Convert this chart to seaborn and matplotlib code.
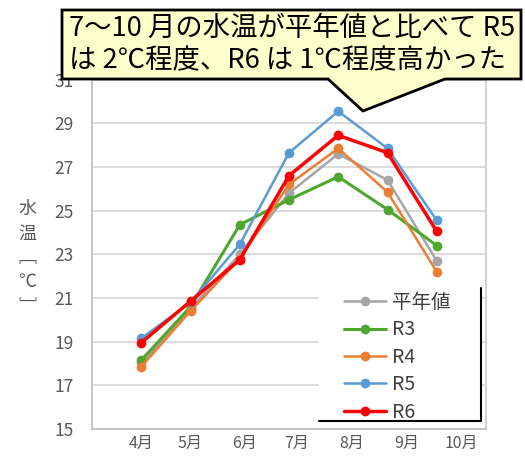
import pandas as pd
import matplotlib
matplotlib.use("Agg")
import matplotlib.pyplot as plt
from matplotlib.patches import Polygon, Rectangle
from matplotlib.lines import Line2D
import seaborn as sns

# Data
months = ["4月", "5月", "6月", "7月", "8月", "9月", "10月"]
normal = [18.0, 20.5, 23.0, 25.8, 27.6, 26.4, 22.7]
r3 = [18.15, 20.6, 24.35, 25.5, 26.55, 25.05, 23.4]
r4 = [17.85, 20.4, 22.8, 26.2, 27.85, 25.85, 22.2]
r5 = [19.15, 20.8, 23.45, 27.65, 29.55, 27.85, 24.55]
r6 = [18.95, 20.85, 22.75, 26.6, 28.45, 27.65, 24.05]
series_names = ["平年値", "R3", "R4", "R5", "R6"]
y_ticks = list(range(15, 32, 2))
note_lines = ["7～10 月の水温が平年値と比べて R5", "は 2℃程度、R6 は 1℃程度高かった"]

# Styles
colors = ["#a5a5a5", "#4ea72e", "#ed7d31", "#5b9bd5", "#ff0000"]
widths = [1.8, 2.2, 1.8, 1.8, 2.5]
month_label_pos = [0, 1, 2.1, 3.15, 4.27, 5.4, 6.5]

sns.set_style("white")
plt.rcParams["font.family"] = ["Noto Sans CJK JP", "DejaVu Sans"]

# Long table for seaborn
rows = []
for name, vals in zip(series_names, [normal, r3, r4, r5, r6]):
    for i, v in enumerate(vals):
        rows.append({"pos": i, "temp": v, "series": name})
df = pd.DataFrame(rows)

W, H = 525, 461
fig = plt.figure(figsize=(W / 100, H / 100), dpi=100)
ax = fig.add_axes([92 / W, 1 - 429 / H, (486 - 92) / W, (429 - 79.6) / H])

sns.lineplot(data=df, x="pos", y="temp", hue="series", hue_order=series_names,
             palette=colors, marker="o", markersize=7, markeredgewidth=0,
             linewidth=2, legend=False, sort=False, ax=ax)
for line, lw in zip(ax.lines, widths):
    line.set_linewidth(lw)

ax.set_xlim(-1, 7)
ax.set_ylim(15, 31)
ax.set_yticks(y_ticks)
ax.set_xticks(month_label_pos)
ax.set_xticklabels(months)
ax.set_xlabel("")
ax.set_ylabel("")
ax.grid(axis="y", color="#d9d9d9", linewidth=1.3)
ax.tick_params(axis="y", length=0, pad=13, labelsize=12.5, labelcolor="#595959")
ax.tick_params(axis="x", length=0, pad=4, labelsize=11.5, labelcolor="#595959")
for s in ax.spines.values():
    s.set_color("#d0d0d0")
    s.set_linewidth(1.3)
ax.spines["left"].set_color("#c0c0c0")
ax.spines["bottom"].set_color("#c0c0c0")

# y label, written vertically
fig.text(27 / W, 1 - 258 / H, "水\n温\n﹇\n℃\n﹈", ha="center", va="center",
         fontsize=13, color="#595959", linespacing=1.45)

# legend with white box and black right/bottom edges
fig.add_artist(Rectangle((319 / W, 1 - 421 / H), 162 / W, 133 / H,
                         transform=fig.transFigure, facecolor="white",
                         edgecolor="none", zorder=2))
fig.add_artist(Line2D([319 / W, 481 / W, 481 / W], [1 - 421 / H, 1 - 421 / H, 1 - 288 / H],
                      transform=fig.transFigure, color="black", linewidth=1.5, zorder=3))
fig.legend(ax.lines, series_names, loc="upper left",
           bbox_to_anchor=(344 / W, 1 - 292 / H), frameon=False, fontsize=14,
           handlelength=2.15, handletextpad=0.3, labelspacing=0.33,
           borderpad=0, borderaxespad=0, labelcolor="#404040")

# callout box
pts = [(62, 10), (521, 10), (521, 79), (445, 79), (363, 111), (328, 79), (62, 79)]
fig.add_artist(Polygon([(x / W, 1 - y / H) for x, y in pts], closed=True,
                       transform=fig.transFigure, facecolor="#ffffcc",
                       edgecolor="black", linewidth=2, zorder=6))
for k, t in enumerate(note_lines):
    fig.text(69 / W, 1 - (28 + 33 * k) / H, t, ha="left", va="center",
             fontsize=19.7, color="black", zorder=7)

fig.savefig("out.png", dpi=100)
